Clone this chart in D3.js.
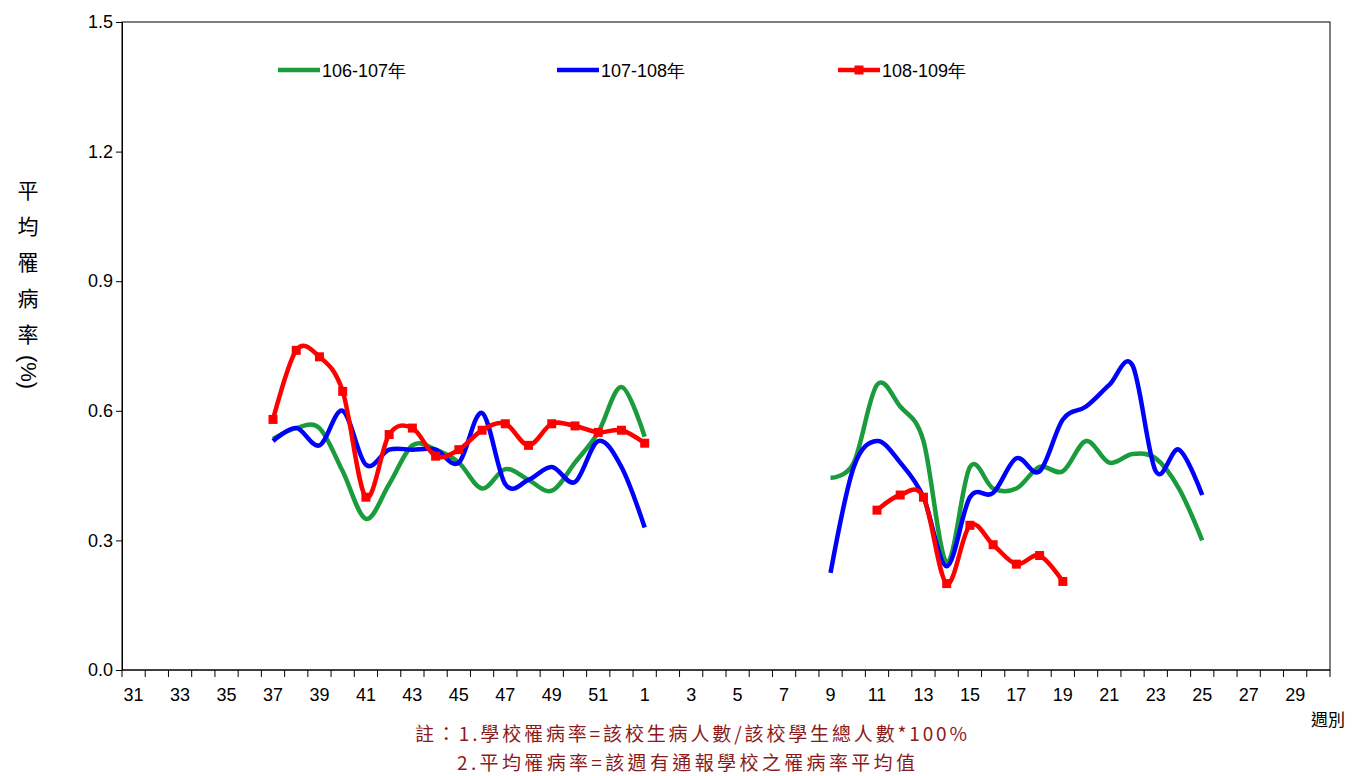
<!DOCTYPE html>
<html><head><meta charset="utf-8">
<script src="https://cdn.jsdelivr.net/npm/d3@7"></script>
<style>body{margin:0;background:#fff;font-family:Arial,"Liberation Sans",sans-serif}</style>
</head><body><svg id="c" width="1352" height="776"></svg>
<script>
// weeks 31..52 then 1..30
const weeks = d3.range(31, 53).concat(d3.range(1, 31));
const weekLabels = weeks.map(w => w % 2 === 1 ? String(w) : '');
const yTicks = [0, 0.3, 0.6, 0.9, 1.2, 1.5];

const weeksA = [37,38,39,40,41,42,43,44,45,46,47,48,49,50,51,52,1];
const weeksB = [9,10,11,12,13,14,15,16,17,18,19,20,21,22,23,24,25];
const weeksC = [11,12,13,14,15,16,17,18,19];

const green1 = [0.535,0.56,0.56,0.46,0.35,0.43,0.52,0.51,0.48,0.42,0.465,0.44,0.415,0.48,0.55,0.655,0.54];
const green2 = [0.445,0.48,0.66,0.61,0.53,0.25,0.47,0.42,0.42,0.47,0.46,0.53,0.48,0.50,0.49,0.42,0.30];
const blue1 = [0.53,0.56,0.52,0.60,0.475,0.51,0.51,0.51,0.48,0.595,0.43,0.44,0.47,0.435,0.53,0.47,0.33];
const blue2 = [0.225,0.47,0.53,0.48,0.40,0.24,0.40,0.41,0.49,0.46,0.58,0.61,0.66,0.705,0.46,0.51,0.405];
const red1 = [0.58,0.74,0.725,0.645,0.40,0.545,0.56,0.495,0.51,0.555,0.57,0.52,0.57,0.565,0.55,0.555,0.525];
const red2 = [0.37,0.405,0.40,0.20,0.335,0.29,0.245,0.265,0.205];

const series = [
  {name:'106-107年', color:'#1a9b3c', parts:[[weeksA,green1],[weeksB,green2]], marker:false},
  {name:'107-108年', color:'#0000ff', parts:[[weeksA,blue1],[weeksB,blue2]], marker:false},
  {name:'108-109年', color:'#ff0000', parts:[[weeksA,red1],[weeksC,red2]], marker:true}
];

const svg = d3.select('#c');
const m = {l:122, r:1330, t:22, b:670};
const x = d3.scaleBand().domain(weeks).range([m.l, m.r]);
const y = d3.scaleLinear().domain([0, 1.5]).range([m.b, m.t]);
const cx = w => x(w) + x.bandwidth()/2;

svg.append('rect').attr('x', m.l).attr('y', m.t).attr('width', m.r-m.l).attr('height', m.b-m.t)
  .attr('fill','none').attr('stroke','#000').attr('stroke-width',1);

// y axis
const ya = svg.append('g').attr('transform', `translate(${m.l},0)`)
  .call(d3.axisLeft(y).tickValues(yTicks).tickFormat(d3.format('.1f')).tickSize(6).tickSizeOuter(0));
ya.selectAll('text').attr('font-size', 18).attr('fill','#000').attr('font-family','Arial,"Liberation Sans"');

// x axis with ticks between bands
const xa = svg.append('g').attr('transform', `translate(0,${m.b})`);
xa.append('line').attr('x1', m.l).attr('x2', m.r).attr('stroke','#000');
xa.selectAll('line.t').data(weeks.concat(['end'])).join('line').attr('class','t')
  .attr('x1', (d,i) => m.l + i*x.bandwidth()).attr('x2', (d,i) => m.l + i*x.bandwidth())
  .attr('y1', 0).attr('y2', 7).attr('stroke','#000');
xa.selectAll('text').data(weeks).join('text')
  .attr('x', d => cx(d)).attr('y', 31).attr('text-anchor','middle')
  .attr('font-size', 18).text((d,i) => weekLabels[i]);

const line = d3.line().x(d => cx(d[0])).y(d => y(d[1])).curve(d3.curveCatmullRom.alpha(0));

series.forEach(s => {
  s.parts.forEach(([ws, vs]) => {
    const pts = ws.map((w,i) => [w, vs[i]]);
    svg.append('path').datum(pts).attr('d', line).attr('fill','none')
      .attr('stroke', s.color).attr('stroke-width', 4.5).attr('stroke-linejoin','round');
    if (s.marker) {
      svg.selectAll(null).data(pts).join('rect')
        .attr('x', d => cx(d[0]) - 4.5).attr('y', d => y(d[1]) - 4.5)
        .attr('width', 9).attr('height', 9).attr('fill', s.color);
    }
  });
});

// legend
const legX = [278, 557, 838];
series.forEach((s, i) => {
  const g = svg.append('g').attr('transform', `translate(${legX[i]},70)`);
  g.append('line').attr('x1',0).attr('x2',42).attr('stroke', s.color).attr('stroke-width',4.5);
  if (s.marker) g.append('rect').attr('x',16.5).attr('y',-4.5).attr('width',9).attr('height',9).attr('fill',s.color);
  g.append('text').attr('x',44).attr('y',7).attr('font-size',18).text(s.name);
});

// y title vertical
const yTitle = ['平','均','罹','病','率'];
svg.append('g').selectAll('text').data(yTitle).join('text')
  .attr('x', 28).attr('y', (d,i) => 198 + i*36)
  .attr('text-anchor','middle').attr('font-size', 21).attr('font-family','"Noto Sans CJK TC"')
  .text(d => d);
svg.append('text').attr('transform','translate(21,372) rotate(90)').attr('text-anchor','middle')
  .attr('font-size', 22).text('(%)');

svg.append('text').attr('x', 1328).attr('y', 726).attr('text-anchor','middle').attr('font-size',17)
  .attr('font-family','"Noto Sans CJK TC"').text('週別');

const notes = ['註：1.學校罹病率=該校生病人數/該校學生總人數*100%', '2.平均罹病率=該週有通報學校之罹病率平均值'];
svg.append('text').attr('x', 415).attr('y', 741).attr('font-size',19).attr('fill','#8b1a1a')
  .attr('font-family','"Noto Sans CJK TC"').attr('textLength',552).attr('lengthAdjust','spacing').text(notes[0]);
svg.append('text').attr('x', 457).attr('y', 770).attr('font-size',19).attr('fill','#8b1a1a')
  .attr('font-family','"Noto Sans CJK TC"').attr('textLength',458).attr('lengthAdjust','spacing').text(notes[1]);
</script></body></html>
